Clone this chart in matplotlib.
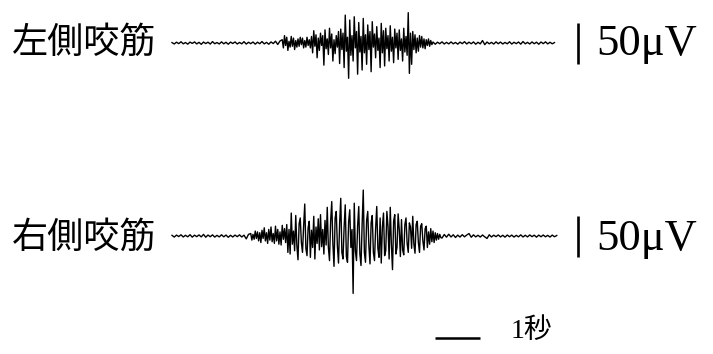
import numpy as np
import matplotlib
matplotlib.use("Agg")
import matplotlib.pyplot as plt

# EMG samples (uV).
# quiet parts: one sample every 0.05 s, bursts: one every 0.025 s
dt_rest = 0.05
dt_burst = 0.025

left_rest = [0.5, -1.2, 1.0, -0.8, 1.5, -1.0, 0.6, -1.4, 1.1, -0.5, 1.3, -1.1, 0.8, -1.6,
             1.2, -0.7, 1.0, -1.3, 1.7, -0.9, 0.6, -1.2, 1.4, -1.0, 0.9, -1.5, 1.1, -0.6,
             1.3, -1.2, 0.7, -1.0, 1.6, -1.3, 0.9, -0.8, 1.2, -1.4, 1.0, -0.9, 1.8, -1.1,
             0.8, -1.5, 1.3, -0.7, 2.2, -1.8, 2.5]
left_burst = [4, -6, 9, -3, 7, -9, 2, -5, 8, -4, 6, -8, 3, -5,
              5, -4, 7, -2, 6, -6, 3, -5, 7, -3, 4, -6,
              8, -12, 15, -4, 10, -18, 6, -9, 12, -3, 9, -27, 16, -7, 5, -14, 18, -6, 11, -22,
              4, -13, 9, -5, 14, -25, 17, -8,
              12, -30, 34, -10, 7, -43, 28, -15, 9, -22, 32, -6, 14, -38, 25, -11, 8, -33, 30, -12,
              10, -26, 22, -8, 14, -35, 26, -5, 11, -18, 20, -9, 6, -30, 24, -12, 15, -28, 18, -7,
              9, -22, 21, -10,
              7, -24, 17, -6, 12, -20, 16, -9, 5, -22, 18, -11, 8, -15, 37, -37, 12, -26, 14, -8,
              10, -12, 6, -10, 9, -5, 8, -6, 5, -7, 4, -3, 5, -4, 3, -2]
left_tail = [1.2, -1.5, 1.0, -0.9, 1.4, -1.2, 0.8, -1.1, 1.3, -1.0, 0.7, -1.4, 1.1, -0.8,
             1.6, -1.2, 1.0, -0.9, 1.3, -1.5, 0.9, -1.1, 3.0, -2.0, 1.2, -1.0, 0.8, -1.3,
             1.4, -0.9, 1.1, -1.2, 0.7, -1.0, 1.5, -1.3, 0.9, -0.8, 1.2, -1.4, 1.8, -1.0,
             0.8, -1.2, 1.3, -0.9, 1.0, -1.5, 1.2, -0.8, 1.4, -1.1, 0.9, -1.0, 0.5]

right_rest = [0.8, -1.3, 1.1, -0.7, 1.5, -1.2, 0.9, -1.0, 1.6, -1.4, 1.0, -0.8, 1.3, -1.1,
              2.0, -1.5, 1.2, -0.9, 1.4, -1.3, 0.8, -1.1, 1.5, -1.0, 1.2, -1.6, 0.9, -1.2,
              1.1, -0.8, 1.4, -1.2, 1.0, -3.5, 2.0]
right_burst = [3, -5, 2, -4, 6, -3, 5, -6, 4, -8, 7, -3, 10, -6, 4, -9, 8, -5, 11, -7, 3, -9,
               12, -6, 8, -10, 5, -11, 13, -4, 9, -8,
               14, -20, 8, -22, 28, -10, 6, -18, 25, -12, -29, 15, 22, -8, -20, 12, 39, -15,
               -24, 10, 18, -26, 7, -14, 24, -28, 11, -9, 21, -17, 26, -13, 8, -22, 19, -11,
               35, -14, -30, 18, 42, -9, -37, 22, 30, -12, -33, 15, 46, -20, -28, 11, 38, -25,
               -32, 17, 32, -14, 8, -70, 40, -18, -30, 12, 36, -22, -36, 14, 56, -20, -32, 19,
               30, -12, -34, 16, 25, -20, -30, 9, 36, -15, -26, 22, -33, 11, 28, -24, -18, 30,
               12, -28, 35, -10, -41, 18, 26, -22, -14, 27, 8, -25, 20, -17, -23, 14, 22, -9,
               -20, 16, 11, -15,
               24, -10, -21, 14, 18, -8, -20, 12, 15, -6, -17, 9, 12, -14, 5, -10, 9, -7, 6, -8,
               4, -5, 3, -4, 2, -2]
right_tail = [-2.5, 1.8, -1.4, 2.2, -1.2, 1.5, -1.8, 1.1, -1.3, 1.6, -1.0, 1.2, 3.0, -1.5,
              1.4, -1.1, 0.9, -1.3, 1.2, -1.0, -3.0, 1.5, -1.2, 1.0, -0.8, 1.3, -1.1, 0.9,
              -1.4, 1.2, -0.9, 1.1, -1.3, 0.8, -1.0, 1.4, -1.2, 0.9, -1.1, 1.3, -0.8, 1.0,
              -1.4, 1.1, -0.9, 1.2, -1.0, 0.8, -1.3, 1.1, -0.9, 0.6]

labels = ["左側咬筋", "右側咬筋"]
amp_bar = 50      # uV
time_bar = 1      # s
amp_text = "50μV"
time_text = "1秒"


def build(rest, burst, tail):
    t, y, t0 = [], [], 0.0
    for seg, d in ((rest, dt_rest), (burst, dt_burst), (tail, dt_rest)):
        t.append(t0 + np.arange(len(seg)) * d)
        y.append(np.asarray(seg, dtype=float))
        t0 += len(seg) * d
    return np.concatenate(t), np.concatenate(y)


traces = [build(left_rest, left_burst, left_tail),
          build(right_rest, right_burst, right_tail)]

W, H = 713, 354
fig = plt.figure(figsize=(W / 100, H / 100), dpi=100)
ax = fig.add_axes([0, 0, 1, 1])
ax.axis("off")

px_per_s = 45.0
uv_per_px = 50 / 41.0
x0, y0 = 172, 43              # pixel of t=0 on the upper baseline
ax.set_xlim(-x0 / px_per_s, (W - x0) / px_per_s)
ax.set_ylim(-(H - y0) * uv_per_px, y0 * uv_per_px)

offsets = [0, -(236 - 43) * uv_per_px]
for (t, sig), off in zip(traces, offsets):
    ax.plot(t, sig + off, color="black", lw=1.0)
    bx = (578 - x0) / px_per_s
    ax.plot([bx, bx], [off - amp_bar / 2, off + amp_bar / 2], color="black", lw=1.9,
            solid_capstyle="butt")

ty = -(338 - 43) * uv_per_px
tx = (435 - x0) / px_per_s
ax.plot([tx, tx + time_bar], [ty, ty], color="black", lw=1.8, solid_capstyle="butt")

cjk = ["Noto Sans CJK JP", "DejaVu Sans"]
serif = ["Liberation Serif", "Noto Sans CJK JP"]
for lab, yc in zip(labels, [43, 238]):
    fig.text(12 / W, 1 - yc / H, lab, family=cjk, fontsize=26, ha="left", va="center")
    fig.text(596 / W, 1 - (yc + 1) / H, amp_text, family=serif, fontsize=32,
             ha="left", va="center")
fig.text(511 / W, 1 - 331 / H, time_text, family=serif, fontsize=20, ha="left", va="center")

fig.savefig("out.png", dpi=100)
